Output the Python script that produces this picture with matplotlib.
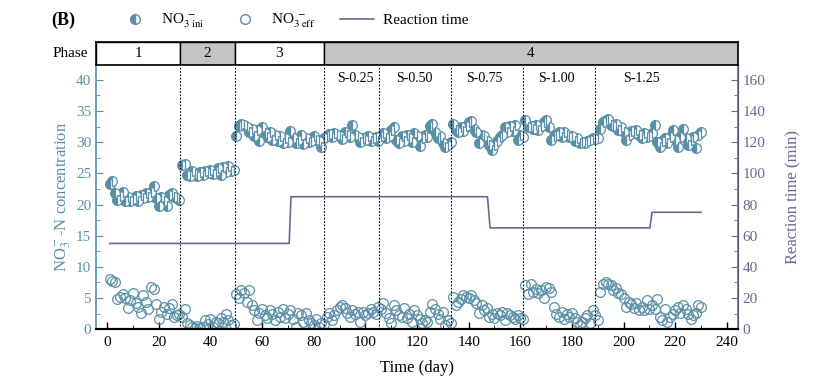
import numpy as np
import matplotlib
matplotlib.use("Agg")
from matplotlib import pyplot as plt
from matplotlib.lines import Line2D

plt.rcParams['font.family'] = ['Liberation Serif', 'DejaVu Serif']
plt.rcParams['mathtext.fontset'] = 'stix'

# influent nitrate, day 1..230
no3_ini = [
    23.3, 23.8, 21.8, 20.8, 21.4, 22.0, 20.5, 21.2, 20.6, 20.9,
    21.3, 20.6, 21.5, 21.0, 21.8, 21.2, 22.0, 23.0, 21.0, 19.8,
    21.2, 20.5, 19.7, 21.5, 21.8, 21.2, 21.0, 20.7,
    26.4, 26.5, 24.8, 24.5, 25.3, 24.9, 24.6, 25.2, 24.8, 25.4,
    25.0, 25.5, 24.9, 25.3, 25.8, 24.7, 26.0, 25.2, 26.2, 25.4, 25.6,
    31.0, 32.6, 33.0, 32.8, 32.5, 31.6, 32.2, 31.0, 32.0, 30.2,
    32.4, 31.4, 30.8, 31.6, 30.4, 31.2, 30.2, 31.0, 29.8, 30.6,
    30.0, 31.8, 30.6, 29.8, 30.4, 31.2, 29.7, 30.6, 30.0, 30.2,
    31.0, 30.4, 30.2, 29.2, 30.7,
    31.0, 31.3, 30.8, 31.5, 31.2, 31.0, 30.5, 31.6, 31.2, 30.8,
    32.8, 31.2, 30.8, 30.0, 30.6, 30.4, 31.0, 30.2, 30.6, 30.8, 30.2,
    31.0, 31.4, 30.6, 31.0, 32.0, 32.4, 30.4, 29.8, 31.0, 30.2,
    31.2, 30.6, 30.0, 31.4, 31.0, 29.4, 30.6, 31.2, 30.8, 32.6,
    33.0, 31.6, 30.6, 31.0, 29.8, 29.3, 29.6, 30.1,
    33.0, 32.0, 31.6, 32.4, 31.8, 32.6, 33.3, 33.4, 32.2, 31.6,
    29.8, 31.2, 31.0, 30.2, 29.6, 28.8, 29.6, 30.2, 30.9, 31.2,
    32.5, 31.6, 32.6, 31.8, 32.7, 30.4, 31.2, 30.9,
    33.6, 32.4, 32.6, 32.2, 32.8, 32.0, 32.6, 33.2, 33.6, 32.4,
    30.4, 31.0, 31.2, 31.6, 30.8, 31.6, 31.2, 30.8, 31.0, 30.2,
    30.6, 29.8, 30.0, 29.9, 30.2, 30.4, 30.6, 30.5,
    30.6, 32.2, 33.2, 33.6, 33.8, 32.8, 32.6, 33.0, 32.0, 32.4,
    31.6, 30.4, 31.2, 31.8, 31.4, 32.0, 31.2, 30.6, 31.4, 30.8,
    31.0, 31.4, 32.8, 30.0, 29.3, 30.2, 30.6, 29.8, 30.8, 32.0,
    30.4, 29.3, 30.8, 32.2, 30.6, 29.6, 30.4, 30.8, 29.0, 31.2, 31.6,
]

# effluent nitrate, day 1..230
no3_eff = [
    8.0, 7.8, 7.6, 4.8, 5.2, 5.6, 5.0, 3.4, 4.6, 5.8,
    4.2, 3.6, 2.6, 5.4, 4.4, 3.2, 6.8, 6.4, 4.0, 1.6,
    2.8, 3.6, 2.4, 3.4, 4.0, 2.0, 2.2, 2.4,
    2.0, 3.2, 1.0, 0.6, 0.3, 0.2, 0.5, 0.2, 0.3, 1.4,
    0.8, 1.6, 0.4, 1.2, 1.0, 1.8, 1.2, 2.5, 1.4, 0.6, 0.8,
    5.6, 5.0, 6.2, 5.8, 4.4, 6.3, 3.8, 3.0, 1.4, 2.6,
    3.2, 2.2, 1.8, 3.0, 2.4, 1.4, 2.8, 2.0, 3.2, 1.8,
    2.4, 3.0, 1.6, 0.4, 2.6, 2.2, 1.2, 2.6, 1.4, 1.0,
    0.6, 1.6, 0.4, 1.0, 0.8,
    2.0, 2.6, 1.4, 2.2, 3.0, 3.6, 3.8, 3.4, 2.6, 2.0,
    3.0, 2.4, 2.8, 1.2, 2.8, 2.2, 2.6, 3.2, 2.8, 2.4, 3.6,
    3.2, 4.2, 2.6, 1.8, 0.9, 3.9, 3.0, 2.2, 2.0, 3.4,
    1.8, 2.4, 1.2, 3.0, 2.2, 1.6, 1.0, 1.4, 1.2, 2.8,
    4.1, 3.2, 2.4, 1.6, 2.8, 0.6, 1.4, 1.0,
    5.2, 3.8, 4.4, 4.8, 5.4, 5.2, 5.0, 5.4, 4.6, 4.2,
    2.6, 3.8, 3.0, 3.4, 2.0, 2.4, 1.8, 2.6, 2.2, 2.8,
    1.4, 2.6, 2.2, 2.0, 1.6, 2.2, 1.8, 1.7,
    7.0, 5.6, 7.3, 6.0, 6.4, 5.8, 6.2, 5.0, 6.8, 6.6,
    6.0, 3.6, 2.4, 2.0, 2.8, 1.6, 2.4, 2.0, 2.6, 1.8,
    1.2, 0.6, 1.2, 1.8, 2.2, 1.0, 3.0, 2.2,
    1.4, 6.0, 7.2, 7.6, 7.3, 7.0, 6.2, 6.6, 5.8, 5.6,
    5.0, 3.6, 4.4, 4.0, 3.4, 4.2, 3.0, 3.6, 3.0, 4.6,
    3.2, 3.8, 3.2, 4.8, 2.0, 1.4, 3.2, 1.2, 2.0, 2.5,
    3.0, 3.6, 2.6, 3.9, 3.2, 2.4, 1.7, 2.2, 2.6, 3.9, 3.6,
]
days = np.arange(1, len(no3_ini) + 1)

# reaction time steps
rt_days = [1, 70.5, 71.2, 147.3, 148.3, 210.2, 211, 230]
rt_min = [55, 55, 85, 85, 65, 65, 75, 75]

phase_edges = [-4.3, 28.3, 49.5, 84, 244.3]
phase_labels = ['1', '2', '3', '4']
phase_fill = ['white', '#c4c4c4', 'white', '#c4c4c4']
cut_days = [28.3, 49.5, 84, 105.3, 133, 161.2, 189]
s_labels = ['S-0.25', 'S-0.50', 'S-0.75', 'S-1.00', 'S-1.25']
s_pos = [96, 119, 146, 174, 207]

teal = '#5a8fa8'
purple = '#6a6890'

fig = plt.figure(figsize=(8.32, 3.89), dpi=100)
ax = fig.add_axes([0.1154, 0.154, 0.7716, 0.679])
ax2 = ax.twinx()

ax.plot(days, no3_ini, 'o', ms=7, mfc=teal, mec=teal, mew=0.9,
        fillstyle='left', markerfacecoloralt='white', ls='none')
ax.plot(days, no3_eff, 'o', ms=7, mfc='none', mec=teal, mew=0.9, ls='none')
ax2.plot(rt_days, rt_min, color=purple, lw=1.2)

for d in cut_days:
    ax.axvline(d, color='black', ls=(0, (1.5, 1.5)), lw=0.8)
for lab, p in zip(s_labels, s_pos):
    ax.text(p, 41.2, lab, ha='center', va='top', fontsize=10)

ax.set_xlim(-4.3, 244.3)
ax.set_ylim(0, 42.4)
ax2.set_ylim(0, 169.6)
ax.set_xticks(np.arange(0, 241, 20))
ax.set_xticks(np.arange(0, 241, 10), minor=True)
ax.set_yticks(np.arange(0, 41, 5))
ax.set_yticks(np.arange(0, 41, 2.5), minor=True)
ax2.set_yticks(np.arange(0, 161, 20))
ax2.set_yticks(np.arange(0, 161, 10), minor=True)

ax.tick_params(axis='x', direction='in', length=5, width=1, labelsize=11, pad=5)
ax.tick_params(axis='x', which='minor', direction='in', length=3)
ax.tick_params(axis='y', which='both', direction='in', colors=teal, labelsize=11)
ax.tick_params(axis='y', which='major', length=5)
ax.tick_params(axis='y', which='minor', length=3)
ax2.tick_params(axis='y', which='both', direction='in', colors=purple, labelsize=11)
ax2.tick_params(axis='y', which='major', length=5)
ax2.tick_params(axis='y', which='minor', length=3)

ax.spines['left'].set_color(teal)
ax.spines['left'].set_linewidth(1.2)
ax2.spines['left'].set_visible(False)
ax2.spines['right'].set_color(purple)
ax2.spines['right'].set_linewidth(1.2)
ax2.spines['bottom'].set_linewidth(1.5)
ax.spines['bottom'].set_linewidth(1.5)
ax.spines['top'].set_visible(False)
ax2.spines['top'].set_visible(False)

ax.set_xlabel('Time (day)', fontsize=12, labelpad=8)
ax.set_ylabel('NO$_3^-$-N concentration', color=teal, fontsize=12, labelpad=2)
ax2.set_ylabel('Reaction time (min)', color=purple, fontsize=12, labelpad=14)

# phase bar
axp = fig.add_axes([0.1154, 0.833, 0.7716, 0.059])
axp.set_xlim(ax.get_xlim())
axp.set_ylim(0, 1)
for i, lab in enumerate(phase_labels):
    a, b = phase_edges[i], phase_edges[i + 1]
    axp.axvspan(a, b, facecolor=phase_fill[i], edgecolor='black', lw=1)
    axp.text((a + b) / 2, 0.5, lab, ha='center', va='center', fontsize=11)
axp.set_xticks([])
axp.set_yticks([])
for s in axp.spines.values():
    s.set_linewidth(1.2)
axp.text(-0.012, 0.5, 'Phase', transform=axp.transAxes, ha='right',
         va='center', fontsize=11)

# legend
h1 = Line2D([], [], marker='o', ls='none', ms=7, mfc=teal, mec=teal,
            fillstyle='left', markerfacecoloralt='white')
h2 = Line2D([], [], marker='o', ls='none', ms=7, mfc='none', mec=teal)
h3 = Line2D([], [], color=purple, lw=1.2)
fig.legend([h1, h2, h3],
           ['NO$_{3\\ \\mathrm{ini}}^{\\ -}$', 'NO$_{3\\ \\mathrm{eff}}^{\\ -}$', 'Reaction time'],
           loc='center left', bbox_to_anchor=(0.125, 0.945), ncol=3,
           frameon=False, fontsize=11, handlelength=2.2, columnspacing=1.6,
           handletextpad=0.6)
fig.text(0.062, 0.947, '(B)', fontsize=13, fontweight='bold', va='center')

fig.savefig('out.png', dpi=100)
